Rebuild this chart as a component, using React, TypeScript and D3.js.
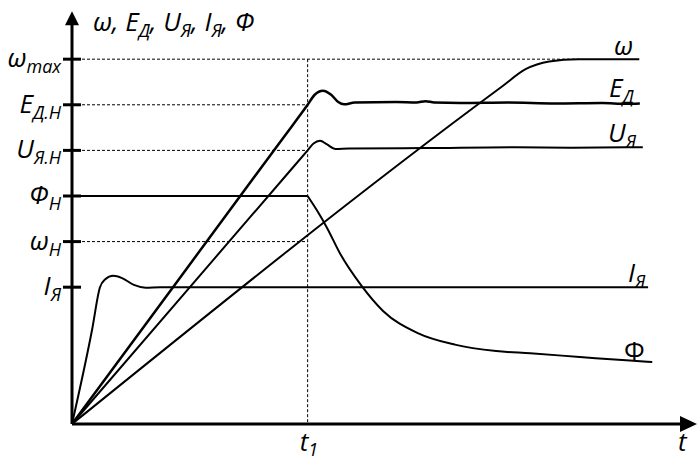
import React from "react";
import * as d3 from "d3";

// levels on the vertical axis
const levelValues = [8, 7, 6, 5, 4, 3];
const levelNames = ["ω", "E", "U", "Φ", "ω", "I"];
const levelSubs = ["max", "Д.Н", "Я.Н", "Н", "Н", "Я"];
const dashedTo = [8.6, 4, 4, null, 4, null];

const t1 = 4;
const tMax = 10.61;
const vMax = 9.05;

// curves as [t, value]
const omegaSeries = [[0, 0], [7.3, 7.4], [7.7, 7.78], [8.1, 7.95], [8.6, 8], [9.63, 8]];
const eSeries = [[0, 0], [3.6, 6.3], [4.0, 7.0], [4.12, 7.22], [4.26, 7.31], [4.4, 7.22], [4.52, 7.06],
  [4.62, 7.01], [4.8, 7.05], [5.5, 7.06], [5.85, 7.05], [6.0, 7.08], [6.15, 7.05], [6.6, 7.04],
  [7.4, 7.05], [8.2, 7.03], [9.0, 7.04], [9.4, 7.02], [9.64, 7.03]];
const uSeries = [[0, 0], [3.6, 5.4], [4.0, 6.0], [4.1, 6.15], [4.21, 6.21], [4.33, 6.13], [4.47, 6.03],
  [4.7, 6.04], [6, 6.05], [7.5, 6.07], [8.5, 6.06], [9.69, 6.07]];
const iSeries = [[0, 0], [0.34, 2.06], [0.475, 3.0], [0.56, 3.17], [0.7, 3.25], [0.85, 3.2],
  [1.05, 3.05], [1.25, 2.99], [1.5, 3.0], [9.78, 3.0]];
const phiFlat = [[0, 5], [4, 5]];
const phiSeries = [[4, 5], [4.16, 4.68], [4.33, 4.3], [4.55, 3.74], [4.91, 3.04], [5.28, 2.48],
  [5.86, 2.0], [6.5, 1.74], [7.2, 1.6], [7.78, 1.55], [8.62, 1.47], [9.47, 1.39], [9.85, 1.36]];

const font = "'Open Sans', 'Noto Sans', sans-serif";

export default function App() {
  const x = d3.scaleLinear().domain([0, tMax]).range([72, 697]);
  const y = d3.scaleLinear().domain([0, vMax]).range([424, 11.3]);
  const line = d3.line<number[]>()
    .x(d => x(d[0]))
    .y(d => y(d[1]))
    .curve(d3.curveMonotoneX);
  const straight = d3.line<number[]>().x(d => x(d[0])).y(d => y(d[1]));

  const x0 = x(0), y0 = y(0);
  const yTop = y(vMax);
  const xEnd = x(tMax);

  const sub = (s: string, dy = 6) => (
    <tspan style={{ fontSize: "18px" }} dy={dy}>{s}</tspan>
  );
  const main = { fontSize: "26px", fontStyle: "italic" };

  return (
    <svg width={697} height={461} style={{ position: "absolute", left: 0, top: 0, background: "#fff" }}
      fontFamily={font}>
      {/* dashed guides */}
      {levelValues.map((v, i) => dashedTo[i] == null ? null : (
        <line key={"d" + i} x1={x0} x2={x(dashedTo[i] as number)} y1={y(v)} y2={y(v)}
          stroke="#000" strokeWidth={1} strokeDasharray="3,2" />
      ))}
      <line x1={x(t1)} x2={x(t1)} y1={y(levelValues[0])} y2={y0}
        stroke="#000" strokeWidth={1} strokeDasharray="3,2" />

      {/* curves */}
      <g fill="none" stroke="#000" strokeWidth={2}>
        <path d={line(omegaSeries) || ""} />
        <path d={line(eSeries) || ""} strokeWidth={2.5} />
        <path d={line(uSeries) || ""} />
        <path d={line(iSeries) || ""} />
        <path d={straight(phiFlat) || ""} />
        <path d={line(phiSeries) || ""} />
      </g>

      {/* axes */}
      <line x1={x0} x2={x0} y1={y0} y2={yTop + 12} stroke="#000" strokeWidth={3} />
      <path d={`M${x0},${yTop} L${x0 - 7},${yTop + 14} L${x0 + 7},${yTop + 14} Z`} fill="#000" />
      <line x1={x0} x2={xEnd - 14} y1={y0} y2={y0} stroke="#000" strokeWidth={3} />
      <path d={`M${xEnd},${y0} L${xEnd - 17},${y0 - 8} L${xEnd - 17},${y0 + 8} Z`} fill="#000" />
      {levelValues.map((v, i) => (
        <line key={"t" + i} x1={x0 - 9} x2={x0 + 9} y1={y(v)} y2={y(v)} stroke="#000" strokeWidth={3} />
      ))}

      {/* left labels */}
      <g textAnchor="end">
        {levelValues.map((v, i) => (
          <text key={"l" + i} x={61} y={y(v) + 8} style={main}>
            {levelNames[i]}{sub(levelSubs[i])}
          </text>
        ))}
      </g>

      {/* axis title */}
      <text x={93} y={31} style={main}>
        ω, E{sub("Д")}<tspan dy={-6}>, U</tspan>{sub("Я")}<tspan dy={-6}>, I</tspan>{sub("Я")}<tspan dy={-6}>, Φ</tspan>
      </text>

      {/* curve labels */}
      <text x={614} y={y(8) - 4} style={main}>ω</text>
      <text x={609} y={y(7) - 8} style={main}>E{sub("Д")}</text>
      <text x={608} y={y(6) - 8} style={main}>U{sub("Я")}</text>
      <text x={628} y={y(3) - 5} style={main}>I{sub("Я")}</text>
      <text x={x(t1) - 8} y={451} style={main}>t{sub("1", 5)}</text>
      <text x={678} y={451} style={main}>t</text>
      <text x={624} y={360} style={{ fontSize: "26px" }}>Φ</text>
    </svg>
  );
}
